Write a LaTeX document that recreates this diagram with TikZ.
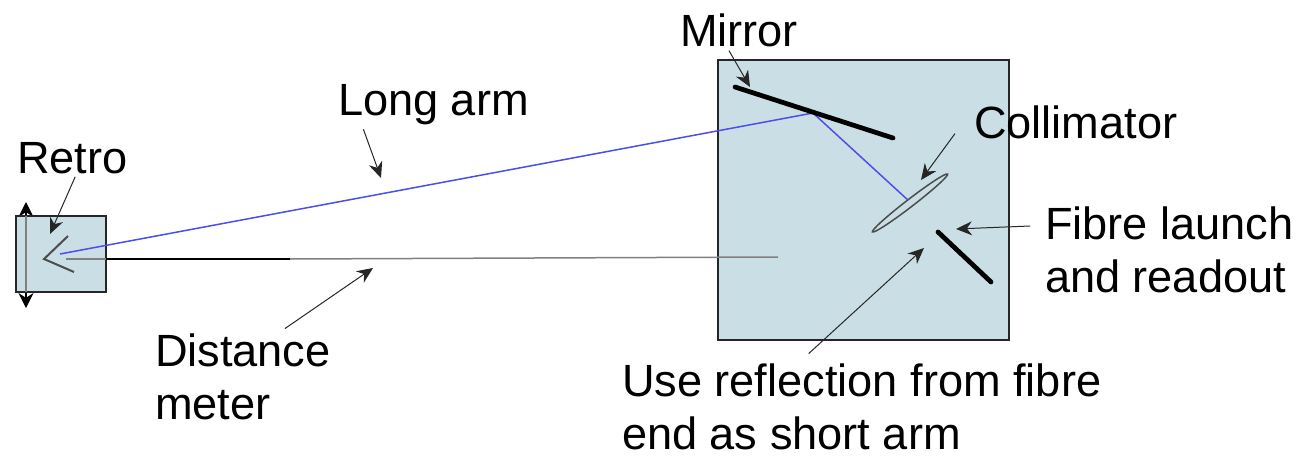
\documentclass[tikz,border=0pt]{standalone}
\usepackage{fontspec}
\setmainfont{Liberation Sans}
\usetikzlibrary{arrows.meta, positioning, shapes.geometric}
\definecolor{panelblue}{HTML}{CADFE5}
\definecolor{beamblue}{HTML}{4A4FE8}
\tikzset{
    panel/.style={draw=black!85,fill=panelblue,line width=0.045cm,inner sep=0pt,outer sep=0pt},
    caption/.style={inner sep=0pt,outer sep=0pt,align=left,font=\fontsize{25.7}{30.5}\selectfont},
    pointer/.style={-{Stealth[length=0.32cm,width=0.28cm]},black!85,line width=0.02cm},
    optic/.style={black,line width=0.095cm,line cap=round},
    beam/.style={beamblue,line width=0.03cm},
    rail/.style={black!50,line width=0.03cm}
}
\begin{document}
\begin{tikzpicture}[x=0.02cm,y=-0.02cm]
    \useasboundingbox (0,0) rectangle (1301,456);
    % Carriage travel, behind the small box
    \coordinate (railTop) at (26,202);
    \coordinate (railBottom) at (26,308);
    \draw[{Stealth[length=0.3cm,width=0.3cm]}-{Stealth[length=0.3cm,width=0.3cm]},black,line width=0.03cm] (railTop) -- (railBottom);

    % The two boxes
    \node[panel,minimum width=1.8cm,minimum height=1.52cm] (carriage) at (61,254) {};
    \node[panel,minimum width=5.82cm,minimum height=5.6cm] (table) at (863.5,200) {};
    \draw[rail] (carriage.north -| railTop) -- (carriage.south -| railTop);

    % Labels
    \node[caption,anchor=west] (retro) at (17,158) {Retro};
    \node[caption,anchor=west] (mirror) at (680,30) {Mirror};
    \node[caption,anchor=west] (longarm) at (338,105) {Long arm};
    \node[caption,anchor=west] (collimator) at (974,122) {Collimator};
    \node[caption,anchor=west] (fibre) at (1045,250) {Fibre launch\\and readout};
    \node[caption,anchor=west] (distance) at (155,377) {Distance\\meter};
    \node[caption,anchor=west] (reflection) at (622,407) {Use reflection from fibre\\end as short arm};

    % Optics
    \coordinate (retroTop) at (68,236);
    \coordinate (retroApex) at (44,259);
    \coordinate (retroLow) at (74,272);
    \draw[black!70,line width=0.04cm] (retroTop) -- (retroApex) -- (retroLow);
    \coordinate (mirrorLeft) at (735,87);
    \coordinate (mirrorRight) at (893,138);
    \coordinate (fibreTop) at (938,232);
    \coordinate (fibreLow) at (991,282);
    \node[draw=black!70,fill=panelblue,line width=0.03cm,ellipse,minimum width=1.9cm,minimum height=0.15cm,inner sep=0pt,rotate=37.6] (lens) at (910,203) {};

    % Beams
    \coordinate (beamStart) at (60,254);
    \coordinate (beamFold) at (813,113);
    \coordinate (meterStart) at (66,259);
    \coordinate (meterFade) at (290,259);
    \coordinate (meterEnd) at (778,257);
    \draw[beam] (beamStart) -- (beamFold) -- (lens.north);
    \draw[rail] (meterStart) -- (carriage.east |- meterStart);
    \draw[black,line width=0.03cm] (carriage.east |- meterStart) -- (meterFade);
    \draw[rail] (meterFade) -- (meterEnd);
    \draw[optic] (mirrorLeft) -- (mirrorRight);
    \draw[optic] (fibreTop) -- (fibreLow);

    % Pointers
    \coordinate (retroTip) at (50,234);
    \coordinate (mirrorTip) at (750,87);
    \coordinate (longTip) at (381,178);
    \coordinate (distanceTip) at (373,268);
    \coordinate (collimatorTip) at (921,180);
    \coordinate (fibreTip) at (956,229);
    \coordinate (reflectionTip) at (924,248);
    \draw[pointer] (retro.south) ++(3,3) -- (retroTip);
    \draw[pointer] (mirror.south) ++(-10,4) -- (mirrorTip);
    \draw[pointer] (longarm.south) ++(-70,4) -- (longTip);
    \draw[pointer] (distance.north) ++(42,-5) -- (distanceTip);
    \draw[pointer] (collimator.south west) ++(-19,-5) -- (collimatorTip);
    \draw[pointer] (fibre.west) ++(-15,-24) -- (fibreTip);
    \draw[pointer] (reflection.north) ++(-53,-10) -- (reflectionTip);
\end{tikzpicture}
\end{document}
